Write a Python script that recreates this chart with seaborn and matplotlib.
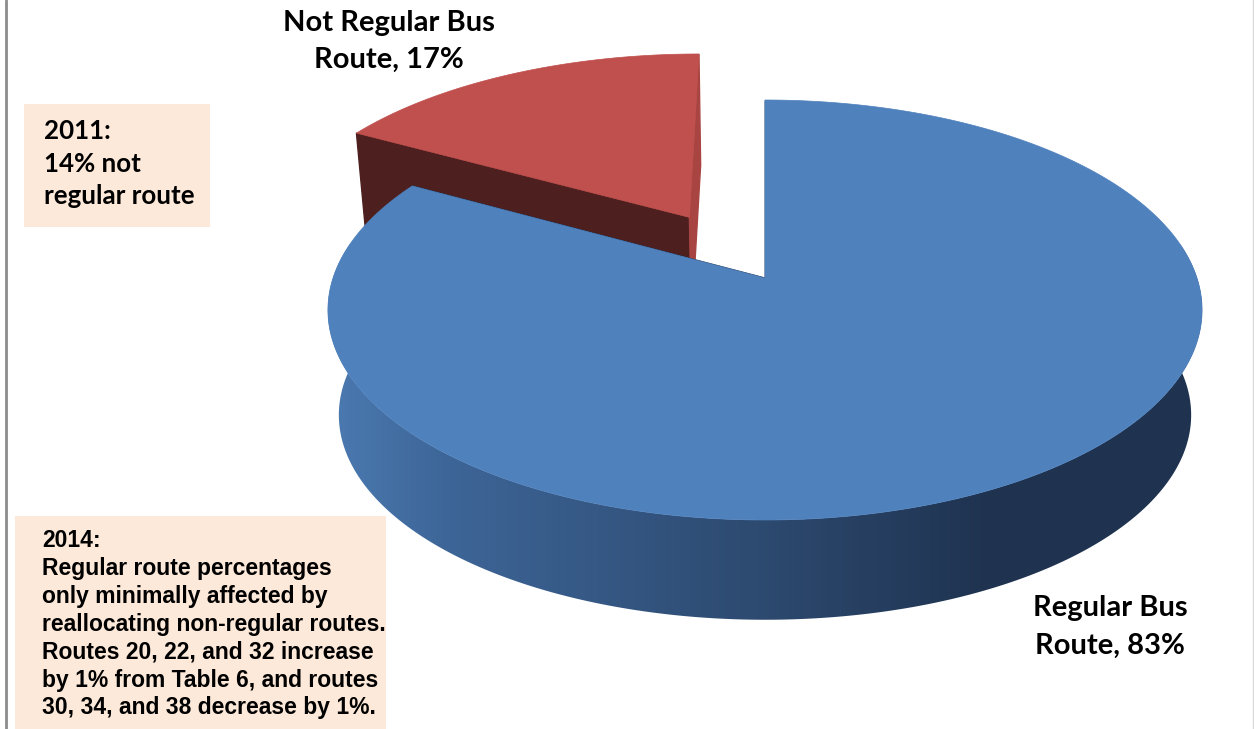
import numpy as np
import matplotlib
matplotlib.use("Agg")
import matplotlib.pyplot as plt
from matplotlib.patches import Polygon, Rectangle
import seaborn as sns

# ---- data -------------------------------------------------------------
categories = ["Regular Bus Route", "Not Regular Bus Route"]
shares = [83, 17]
explode = [0.0, 0.36]

label_lines = {
    "Regular Bus Route": ["Regular Bus", "Route, 83%"],
    "Not Regular Bus Route": ["Not Regular Bus", "Route, 17%"],
}

note_2011 = ["2011:", "14% not", "regular route"]
note_2014 = [
    "2014:",
    "Regular route percentages",
    "only minimally affected by",
    "reallocating non-regular routes.",
    "Routes 20, 22, and 32 increase",
    "by 1% from Table 6, and routes",
    "30, 34, and 38 decrease by 1%.",
]

# ---- style ------------------------------------------------------------
sns.set_theme(style="white")
plt.rcParams["font.family"] = ["Lato", "DejaVu Sans"]

top_colors = {"Regular Bus Route": "#4F81BD", "Not Regular Bus Route": "#C0504D"}
cut_colors = {"Regular Bus Route": "#1F3350", "Not Regular Bus Route": "#4D1F1F"}
side_line = {"Regular Bus Route": "#1F3350", "Not Regular Bus Route": "#A84542"}
# side shading of the blue rim, light on the left and dark toward the right
rim_stops_x = np.array([330, 450, 760, 990, 1210])
rim_cmap_colors = sns.blend_palette(["#4B7AB1", "#3D6597", "#2D4A70", "#1F3350", "#1F3350"], 5)

W, H = 1254, 729
fig = plt.figure(figsize=(W / 100, H / 100), dpi=100)
ax = fig.add_axes([0, 0, 1, 1])
ax.set_xlim(0, W)
ax.set_ylim(H, 0)
ax.axis("off")

# ---- perspective projection of the pie disc --------------------------
CX, CY = 765, 310          # centre of the top ellipse on the canvas
A, B, K = 432, 210, 0.152  # horizontal scale, vertical scale, perspective
DEPTH, SHRINK = 105, 0.975 # thickness of the pie and size of its lower face


def project(x, y, bottom=False):
    w = 1 + K * y
    u = A * x / w
    v = B * (y + K) / w
    if bottom:
        return np.column_stack([CX + SHRINK * u, CY + DEPTH - SHRINK * v])
    return np.column_stack([CX + u, CY - v])


def rim_gradient(xmin, xmax, n=600):
    xs = np.linspace(xmin, xmax, n)
    rgb = np.array(rim_cmap_colors)
    row = np.stack([np.interp(xs, rim_stops_x, rgb[:, c]) for c in range(3)], axis=-1)
    return row[None, :, :]


# slices run clockwise from twelve o'clock
total = float(sum(shares))
starts = 90 - 360 * np.cumsum([0] + shares[:-1]) / total
ends = starts - 360 * np.array(shares) / total

order = [1, 0]  # the exploded back slice is drawn first
for i in order:
    name = categories[i]
    t0, t1 = starts[i], ends[i]
    mid = np.radians((t0 + t1) / 2)
    ox, oy = explode[i] * np.cos(mid), explode[i] * np.sin(mid)
    th = np.radians(np.linspace(t0, t1, 600))
    xs, ys = ox + np.cos(th), oy + np.sin(th)
    top_arc = project(xs, ys)
    bot_arc = project(xs, ys, bottom=True)
    apex_t = project(np.array([ox]), np.array([oy]))[0]
    apex_b = project(np.array([ox]), np.array([oy]), bottom=True)[0]

    # outer rim: only the front-facing band can be seen
    deg = np.degrees(th) % 360
    front = (deg >= 170) & (deg <= 359.9) | (deg <= 10)
    if front.any():
        idx = np.where(front)[0]
        band_top = top_arc[idx]
        band_bot = bot_arc[idx]
        srt = np.argsort(np.degrees(th[idx]))
        band = np.vstack([band_top[srt], band_bot[srt][::-1]])
        band_patch = Polygon(band, closed=True, facecolor="none",
                             edgecolor="none", zorder=1)
        ax.add_patch(band_patch)
        x0, x1 = band[:, 0].min() - 2, band[:, 0].max() + 2
        y0, y1 = band[:, 1].min() - 2, band[:, 1].max() + 2
        img = ax.imshow(rim_gradient(x0, x1), extent=(x0, x1, y1, y0),
                        aspect="auto", interpolation="bilinear", zorder=1)
        img.set_clip_path(band_patch)

    # radial cut faces
    for k, col in ((0, cut_colors[name]), (-1, side_line[name])):
        face = [apex_t, top_arc[k], bot_arc[k], apex_b]
        ax.add_patch(Polygon(face, closed=True, facecolor=col,
                             edgecolor=col, linewidth=1.0, zorder=2))

    # top face
    top = np.vstack([apex_t, top_arc])
    ax.add_patch(Polygon(top, closed=True, facecolor=top_colors[name],
                         edgecolor=top_colors[name], linewidth=0.5, zorder=3))

ax.set_xlim(0, W)
ax.set_ylim(H, 0)

# ---- slice labels -----------------------------------------------------
label_font = dict(fontsize=21, fontweight="bold", color="black", ha="center",
                  va="baseline", zorder=5)
for line, yb in zip(label_lines["Not Regular Bus Route"], [31, 68]):
    ax.text(389, yb, line, **label_font)
for line, yb in zip(label_lines["Regular Bus Route"], [616, 654]):
    ax.text(1110, yb, line, **label_font)

# ---- notes ------------------------------------------------------------
box_fc = "#FDE9D9"
ax.add_patch(Rectangle((24, 104), 186, 123, facecolor=box_fc, edgecolor="none", zorder=4))
for n, line in enumerate(note_2011):
    ax.text(44, 139 + n * 32.5, line, fontsize=18.6, fontweight="bold",
            color="black", ha="left", va="baseline", zorder=5)

ax.add_patch(Rectangle((15, 516), 371, 220, facecolor=box_fc, edgecolor="none", zorder=4))
for n, line in enumerate(note_2014):
    ax.text(42, 547 + n * 27.9, line, fontsize=16.5, fontweight="bold",
            family=["Liberation Sans", "DejaVu Sans"], color="black",
            ha="left", va="baseline", zorder=5)

# frame edges
ax.plot([6, 6], [0, H], color="#8C8C8C", linewidth=2, zorder=6)
ax.plot([1252.5, 1252.5], [0, H], color="#D9D9D9", linewidth=1, zorder=6)

fig.savefig("out.png", dpi=100)
